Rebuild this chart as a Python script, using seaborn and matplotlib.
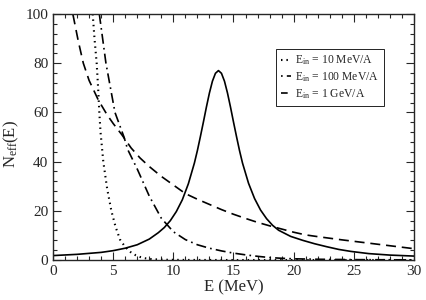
import matplotlib
matplotlib.use("Agg")
import matplotlib.pyplot as plt
import seaborn as sns
from matplotlib.ticker import MultipleLocator

# resonance (solid)
res_e = [0, 2, 4, 5, 6, 7, 8, 8.75, 9.25, 9.75, 10.25, 10.75, 11.25, 11.75, 12.0, 12.25,
         12.5, 12.75, 13.0, 13.25, 13.5, 13.75, 14.0, 14.25, 14.5, 14.75, 15.0, 15.25,
         15.5, 15.75, 16.25, 16.75, 17.25, 17.75, 18.25, 18.75, 19.75, 20.75, 21.75,
         22.75, 23.75, 24.75, 26.25, 28, 30]
res_n = [1.8, 2.3, 3.1, 3.8, 4.8, 6.2, 8.5, 11.1, 13.2, 16.0, 19.7, 24.5, 31.0, 39.4, 44.5, 50.2,
         56.1, 62.2, 67.9, 72.7, 75.9, 77.0, 75.9, 72.7, 67.9, 62.2, 56.1, 50.2,
         44.5, 39.4, 31.2, 25.0, 20.3, 16.8, 14.1, 12.1, 9.6, 8.0, 6.6,
         5.4, 4.3, 3.5, 2.6, 2.0, 1.6]

# E_in = 10 MeV/A (dotted)
low_e = [3.3, 3.45, 3.63, 3.75, 3.85, 3.95, 4.18, 4.5, 4.85, 5.2, 5.57, 5.9, 6.2, 6.5,
         6.85, 7.2, 7.6, 8.0, 8.6, 9.5, 11, 15, 30]
low_n = [100, 90, 80, 70, 60, 52, 40, 29, 20, 13.5, 8.3, 6.0, 4.3, 3.0,
         2.0, 1.3, 0.75, 0.45, 0.25, 0.1, 0.03, 0.0, 0.0]

# E_in = 100 MeV/A (dash-dot)
mid_e = [3.85, 4.4, 5.15, 5.9, 6.2, 7.0, 8.0, 9.0, 10.0, 11, 12, 13, 14, 15, 16, 17, 18,
         19, 20, 22, 25, 30]
mid_n = [100, 80, 60, 50, 45, 37, 26, 17, 11.5, 8.3, 6.2, 4.8, 3.7, 2.8, 2.1, 1.5, 1.0,
         0.7, 0.5, 0.3, 0.15, 0.05]

# E_in = 1 GeV/A (dashed)
high_e = [0.8, 1.2, 1.69, 2.1, 2.52, 3.0, 3.77, 4.5, 5.0, 5.71, 6.5, 7.23, 8, 9, 10, 11, 12,
          13, 14, 15, 16, 17, 18, 19, 20, 21, 22, 24, 26, 28, 30]
high_n = [125, 110, 99, 89, 80, 73, 65, 59, 55.5, 51, 45.5, 41.5, 38, 34, 30.5, 27, 24.7,
          22.6, 20.5, 18.6, 16.9, 15.3, 13.9, 12.6, 11.3, 10.2, 9.5, 8.2, 7.0, 5.8, 4.6]

sns.set_style("ticks")
plt.rcParams["font.family"] = ["Liberation Serif", "DejaVu Serif"]
plt.rcParams["mathtext.fontset"] = "custom"
plt.rcParams["mathtext.rm"] = "Liberation Serif"
plt.rcParams["mathtext.it"] = "Liberation Serif:italic"

fig = plt.figure(figsize=(4.26, 3.0), dpi=100)
ax = fig.add_axes([0.1244, 0.1333, 0.8474, 0.82])

lw = 1.2
sns.lineplot(x=res_e, y=res_n, ax=ax, color="black", lw=lw)
sns.lineplot(x=low_e, y=low_n, ax=ax, color="black", lw=1.5,
             label=r"E$_{\mathrm{in}}$ = 10 MeV/A").lines[-1].set_dashes((0.7, 1.9))
sns.lineplot(x=mid_e, y=mid_n, ax=ax, color="black", lw=lw,
             label=r"E$_{\mathrm{in}}$ = 100 MeV/A").lines[-1].set_dashes((6, 2.5, 1, 2.5))
sns.lineplot(x=high_e, y=high_n, ax=ax, color="black", lw=lw,
             label=r"E$_{\mathrm{in}}$ = 1 GeV/A").lines[-1].set_dashes((6, 3.5))

ax.set_xlim(0, 30)
ax.set_ylim(0, 100)
ax.xaxis.set_major_locator(MultipleLocator(5))
ax.xaxis.set_minor_locator(MultipleLocator(1))
ax.yaxis.set_major_locator(MultipleLocator(20))
ax.yaxis.set_minor_locator(MultipleLocator(4))
ax.tick_params(which="both", direction="in", top=True, right=True, labelsize=11, width=0.8)
ax.tick_params(which="major", length=6)
ax.tick_params(which="minor", length=3)
for s in ax.spines.values():
    s.set_linewidth(1.0)

ax.set_xlabel("E (MeV)", fontsize=12, labelpad=1)
ax.set_ylabel(r"N$_{\mathrm{eff}}$(E)", fontsize=12)
ax.yaxis.set_label_coords(-0.09, 0.47)

leg = ax.legend(loc="upper right", bbox_to_anchor=(0.917, 0.858), borderaxespad=0,
                fontsize=8.4, handlelength=0.9, handletextpad=0.35, borderpad=0.4,
                labelspacing=0.25, fancybox=False, framealpha=1)
leg.get_frame().set_edgecolor("black")
leg.get_frame().set_linewidth(0.6)
# short legend handles: keep the dot-dash and dash-gap look of the original
leg.get_lines()[1].set_dashes((1, 2.5, 6, 2.5))
leg.get_lines()[2].set_dashes((4, 2.2))

fig.savefig("out.png", dpi=100)
